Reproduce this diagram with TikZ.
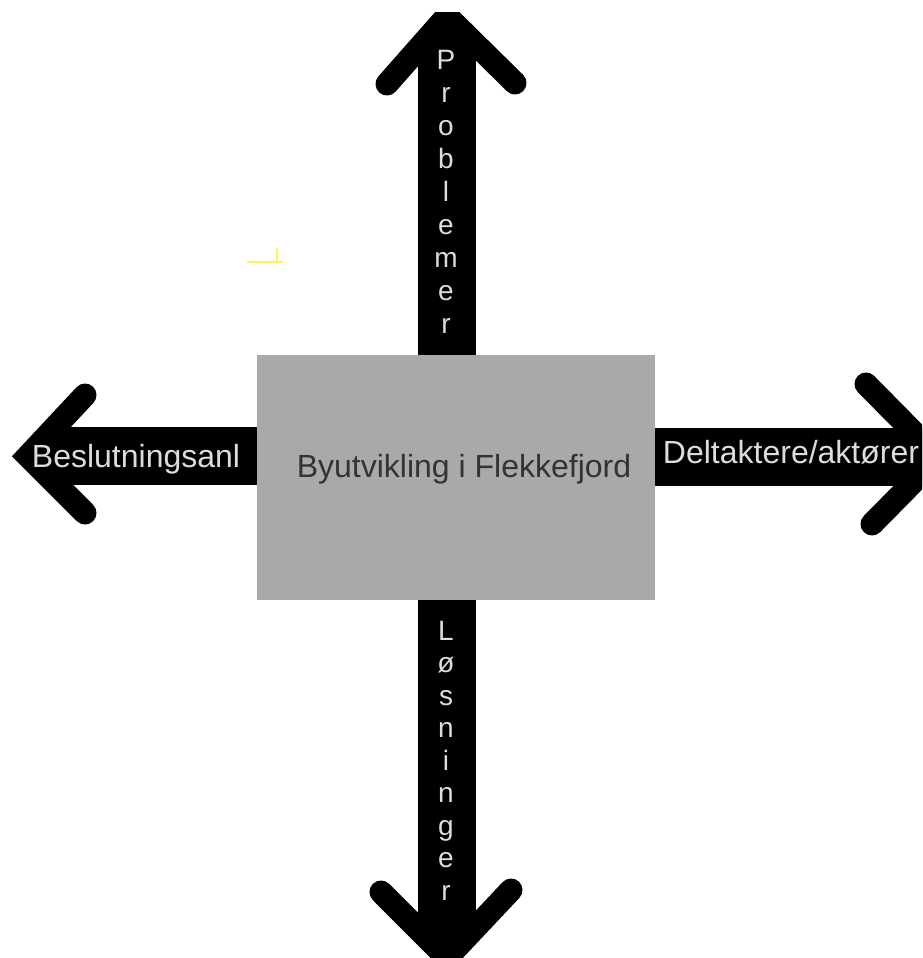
\documentclass[tikz,border=0pt]{standalone}
\usepackage{fontspec}
\setmainfont{Liberation Sans}
\definecolor{boxgray}{HTML}{A9A9A9}
\definecolor{lblgray}{HTML}{DCDCDC}
\definecolor{txtgray}{HTML}{333333}
\definecolor{markyellow}{HTML}{FFF25A}
\begin{document}
\begin{tikzpicture}[x=1pt,y=-1pt,
  shaft/.style={line width=58pt},
  barb/.style={line width=23pt,line cap=round,line join=miter},
  lbl/.style={text=lblgray,font=\fontsize{32}{38}\selectfont,anchor=base},
  vlbl/.style={text=lblgray,font=\fontsize{28}{33}\selectfont,anchor=base}]
  \useasboundingbox (0,0) rectangle (922,958);
  \clip (0,13) rectangle (922,958);
  \node[fill=boxgray,minimum width=398pt,minimum height=245pt,inner sep=0pt] (box) at (456,477.5) {};
  \coordinate (upTip)    at (447,16);
  \coordinate (downTip)  at (447,958);
  \coordinate (leftTip)  at (28,456);
  \coordinate (rightTip) at (938,457);
  % shafts
  \draw[shaft] (box.north -| upTip)    -- ([yshift=-15pt]upTip);
  \draw[shaft] (box.south -| downTip)  -- ([yshift=15pt]downTip);
  \draw[shaft] (box.west |- leftTip)   -- ([xshift=15pt]leftTip);
  \draw[shaft] (box.east |- rightTip)  -- ([xshift=-15pt]rightTip);
  % heads
  \draw[barb] (upTip) ++(-60,68) -- (upTip) -- ++(68,67);
  \draw[barb] (downTip) ++(-66,-66) -- (downTip) -- ++(64,-68);
  \draw[barb] (leftTip) ++(57,-61) -- (leftTip) -- ++(57,57);
  \draw[barb] (rightTip) ++(-72,-73) -- (rightTip) -- ++(-66,67);
  \node[anchor=base,text=txtgray,font=\fontsize{32}{38}\selectfont] (title) at (464,477) {Byutvikling i Flekkefjord};
  \node[lbl] (beslutning) at (136,467) {Beslutningsanl};
  \node[lbl] (deltakere) at (791,463) {Deltaktere/aktører};
  \foreach \c [count=\i] in {P,r,o,b,l,e,m,e,r}
    \node[vlbl] (prob\i) at (446,{70+(\i-1)*32.9}) {\c};
  \foreach \c [count=\i] in {L,ø,s,n,i,n,g,e,r}
    \node[vlbl] (los\i) at (446,{640+(\i-1)*32.5}) {\c};
  \draw[markyellow,line width=2pt] (247,262) -- (283,262);
  \draw[markyellow,line width=2pt] (277,248) -- (277,262);
\end{tikzpicture}
\end{document}
